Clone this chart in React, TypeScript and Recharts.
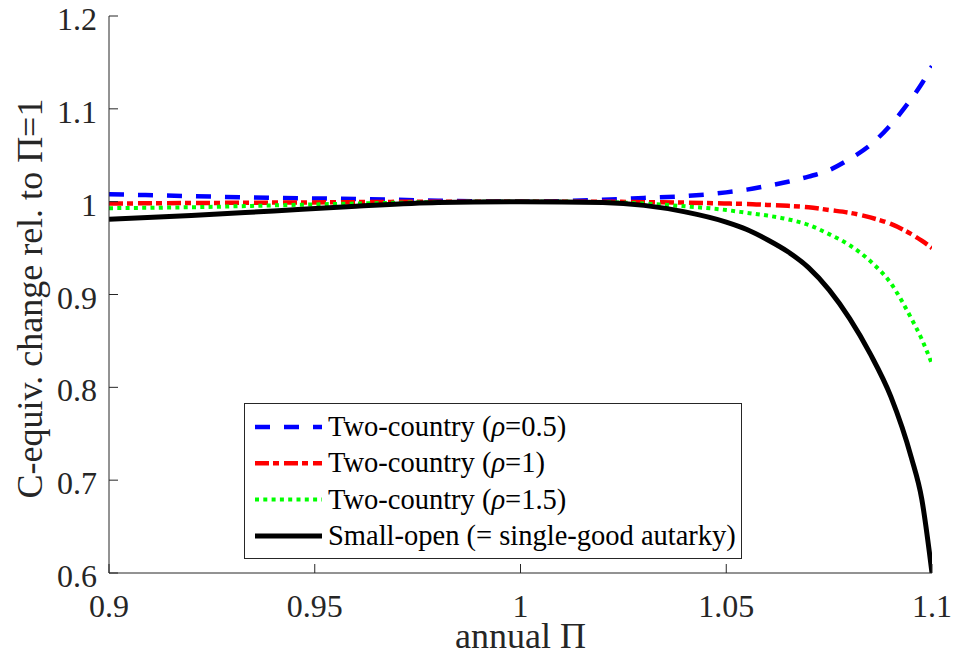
import React from 'react';
import { LineChart, Line, XAxis, YAxis, Legend, Label } from 'recharts';

const xValues = [0.9, 0.92, 0.94, 0.96, 0.98, 1.0, 1.02, 1.03, 1.04, 1.05, 1.055, 1.06, 1.065, 1.07, 1.075, 1.08, 1.085, 1.09, 1.095, 1.0975, 1.1];
const rho05Values = [1.008, 1.006, 1.004, 1.003, 1.001, 1.0, 1.002, 1.004, 1.006, 1.01, 1.013, 1.017, 1.0215, 1.027, 1.034, 1.046, 1.061, 1.083, 1.111, 1.127, 1.146];
const rho1Values = [0.998, 0.9985, 0.999, 0.9995, 1.0, 1.0, 1.0, 0.9995, 0.999, 0.998, 0.9975, 0.9965, 0.9955, 0.994, 0.991, 0.988, 0.983, 0.976, 0.965, 0.958, 0.95];
const rho15Values = [0.993, 0.994, 0.996, 0.998, 0.9995, 1.0, 0.9995, 0.998, 0.995, 0.991, 0.988, 0.985, 0.981, 0.975, 0.965, 0.953, 0.936, 0.912, 0.874, 0.852, 0.825];
const smallOpenValues = [0.981, 0.985, 0.99, 0.995, 0.999, 1.0, 0.999, 0.996, 0.989, 0.978, 0.97, 0.959, 0.946, 0.929, 0.905, 0.874, 0.836, 0.79, 0.724, 0.68, 0.6];

const xTicks = [0.9, 0.95, 1, 1.05, 1.1];
const xTickLabels = ['0.9', '0.95', '1', '1.05', '1.1'];
const yTicks = [0.6, 0.7, 0.8, 0.9, 1, 1.1, 1.2];
const yTickLabels = ['0.6', '0.7', '0.8', '0.9', '1', '1.1', '1.2'];

const seriesNames = ['Two-country (ρ=0.5)', 'Two-country (ρ=1)', 'Two-country (ρ=1.5)', 'Small-open (= single-good autarky)'];

const data = xValues.map((x, i) => ({
  x,
  s1: rho05Values[i],
  s2: rho1Values[i],
  s3: rho15Values[i],
  s4: smallOpenValues[i],
}));

const FONT = '"Liberation Serif", "Times New Roman", serif';
const AXIS_COLOR = '#262626';
const TICK_LEN = 9;

const BottomTick = (props: any) => {
  const { x, y, payload } = props;
  const i = xTicks.indexOf(payload.value);
  return (
    <g>
      <line x1={x} y1={y} x2={x} y2={y - TICK_LEN} stroke={AXIS_COLOR} strokeWidth={1} />
      <text x={x} y={y + 44} textAnchor="middle" fontFamily={FONT} fontSize={32} fill={AXIS_COLOR}>
        {i >= 0 ? xTickLabels[i] : String(payload.value)}
      </text>
    </g>
  );
};

const TopTick = (props: any) => {
  const { x, y } = props;
  return <line x1={x} y1={y} x2={x} y2={y + TICK_LEN} stroke={AXIS_COLOR} strokeWidth={1} />;
};

const LeftTick = (props: any) => {
  const { x, y, payload } = props;
  const i = yTicks.indexOf(payload.value);
  return (
    <g>
      <line x1={x} y1={y} x2={x + TICK_LEN} y2={y} stroke={AXIS_COLOR} strokeWidth={1} />
      <text x={x - 12} y={y + 14} textAnchor="end" fontFamily={FONT} fontSize={32} fill={AXIS_COLOR}>
        {i >= 0 ? yTickLabels[i] : String(payload.value)}
      </text>
    </g>
  );
};

const RightTick = (props: any) => {
  const { x, y } = props;
  return <line x1={x} y1={y} x2={x - TICK_LEN} y2={y} stroke={AXIS_COLOR} strokeWidth={1} />;
};

const renderLegendName = (name: string) => {
  const idx = name.indexOf('ρ');
  if (idx < 0) return name;
  return (
    <>
      {name.slice(0, idx)}
      <tspan fontStyle="italic">ρ</tspan>
      {name.slice(idx + 1)}
    </>
  );
};

const LegendBox = (props: any) => {
  const { payload } = props;
  const items = (payload || []).filter((p: any) => p.type !== 'none');
  const order = ['s1', 's2', 's3', 's4'];
  items.sort((a: any, b: any) => order.indexOf(a.dataKey) - order.indexOf(b.dataKey));
  return (
    <svg width={498} height={156} style={{ display: 'block' }}>
      <rect x={0.5} y={0.5} width={497} height={155} fill="#ffffff" stroke={AXIS_COLOR} strokeWidth={1} />
      {items.map((item: any, k: number) => {
        const p = item.payload || {};
        const rowY = 24 + k * 36.3;
        return (
          <g key={k}>
            <line
              x1={11}
              x2={78}
              y1={rowY}
              y2={rowY}
              stroke={item.color}
              strokeWidth={p.strokeWidth}
              strokeDasharray={p.strokeDasharray}
            />
            <text x={84} y={rowY + 9} fontFamily={FONT} fontSize={28.5} fill="#000000">
              {renderLegendName(item.value)}
            </text>
          </g>
        );
      })}
    </svg>
  );
};

export default function App() {
  return (
    <div style={{ position: 'absolute', left: 0, top: 0, width: 954, height: 666, background: '#ffffff' }}>
      <LineChart width={954} height={666} data={data} margin={{ top: 16, right: 22, bottom: 0, left: 0 }}>
        <XAxis
          xAxisId="bottom"
          dataKey="x"
          type="number"
          domain={[0.9, 1.1]}
          ticks={xTicks}
          allowDataOverflow
          orientation="bottom"
          height={93}
          tickSize={0}
          tickMargin={0}
          tickLine={false}
          interval={0}
          axisLine={{ stroke: AXIS_COLOR, strokeWidth: 1 }}
          tick={<BottomTick />}
        >
          <Label
            content={(lp: any) => {
              const vb = lp.viewBox || {};
              return (
                <text
                  x={vb.x + vb.width / 2}
                  y={vb.y + 75}
                  textAnchor="middle"
                  fontFamily={FONT}
                  fontSize={36}
                  fill={AXIS_COLOR}
                >
                  annual Π
                </text>
              );
            }}
          />
        </XAxis>
        <XAxis
          xAxisId="top"
          dataKey="x"
          type="number"
          domain={[0.9, 1.1]}
          ticks={xTicks}
          allowDataOverflow
          orientation="top"
          height={0}
          tickSize={0}
          tickMargin={0}
          tickLine={false}
          interval={0}
          axisLine={{ stroke: AXIS_COLOR, strokeWidth: 1 }}
          tick={<TopTick />}
        />
        <YAxis
          yAxisId="left"
          type="number"
          domain={[0.6, 1.2]}
          ticks={yTicks}
          allowDataOverflow
          orientation="left"
          width={109}
          tickSize={0}
          tickMargin={0}
          tickLine={false}
          interval={0}
          axisLine={{ stroke: AXIS_COLOR, strokeWidth: 1 }}
          tick={<LeftTick />}
        >
          <Label
            content={(lp: any) => {
              const vb = lp.viewBox || {};
              const cx = 30;
              const cy = vb.y + vb.height / 2 + 4;
              return (
                <text
                  x={cx}
                  y={cy}
                  transform={`rotate(-90, ${cx}, ${cy})`}
                  textAnchor="middle"
                  dominantBaseline="central"
                  fontFamily={FONT}
                  fontSize={36}
                  fill={AXIS_COLOR}
                >
                  C-equiv. change rel. to Π=1
                </text>
              );
            }}
          />
        </YAxis>
        <YAxis
          yAxisId="right"
          type="number"
          domain={[0.6, 1.2]}
          ticks={yTicks}
          allowDataOverflow
          orientation="right"
          width={0}
          tickSize={0}
          tickMargin={0}
          tickLine={false}
          interval={0}
          axisLine={{ stroke: AXIS_COLOR, strokeWidth: 1 }}
          tick={<RightTick />}
        />
        <Legend
          layout="vertical"
          align="center"
          verticalAlign="middle"
          wrapperStyle={{ left: 244, top: 403, width: 498, height: 156 }}
          content={<LegendBox />}
        />
        <Line
          xAxisId="bottom"
          yAxisId="left"
          type="monotone"
          dataKey="s1"
          name={seriesNames[0]}
          stroke="#0000ff"
          strokeWidth={4.5}
          strokeDasharray="15 14"
          dot={false}
          activeDot={false}
          isAnimationActive={false}
        />
        <Line
          xAxisId="bottom"
          yAxisId="left"
          type="monotone"
          dataKey="s2"
          name={seriesNames[1]}
          stroke="#ff0000"
          strokeWidth={4.5}
          strokeDasharray="14 4 6 5"
          dot={false}
          activeDot={false}
          isAnimationActive={false}
        />
        <Line
          xAxisId="bottom"
          yAxisId="left"
          type="monotone"
          dataKey="s3"
          name={seriesNames[2]}
          stroke="#00ff00"
          strokeWidth={4}
          strokeDasharray="4 4.3"
          dot={false}
          activeDot={false}
          isAnimationActive={false}
        />
        <Line
          xAxisId="bottom"
          yAxisId="left"
          type="monotone"
          dataKey="s4"
          name={seriesNames[3]}
          stroke="#000000"
          strokeWidth={5}
          dot={false}
          activeDot={false}
          isAnimationActive={false}
        />
      </LineChart>
    </div>
  );
}
